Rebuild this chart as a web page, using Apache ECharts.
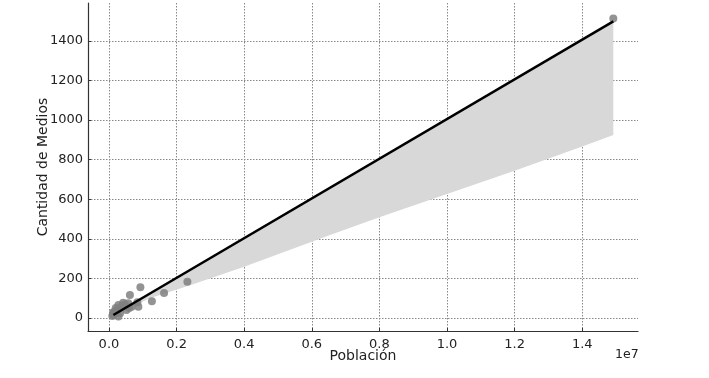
<!DOCTYPE html>
<html>
<head>
<meta charset="utf-8">
<script src="https://cdn.jsdelivr.net/npm/echarts@6/dist/echarts.min.js"></script>
<style>html,body{margin:0;padding:0;background:#fff}#c{width:709px;height:378px}</style>
</head>
<body>
<div id="c"></div>
<script>
// Scatter data: population vs number of media outlets
var pointPopulation = [14920000, 2320000, 1630000, 1270000, 930000, 620000, 870000, 840000, 670000, 520000, 420000, 570000, 280000, 230000, 180000, 130000, 280000, 330000, 370000, 470000, 100000, 150000, 200000, 250000, 400000, 600000, 120000];
var pointMedia = [1514, 183, 126, 84, 155, 116, 57, 79, 57, 40, 77, 74, 66, 40, 24, 15, 7, 24, 58, 69, 10, 30, 50, 35, 60, 50, 28];
// Regression line
var lineX = [130000, 14920000];
var lineY = [15, 1499];
// Confidence band
var bandX = [130000, 1210000, 2400000, 4000000, 6540000, 8000000, 10000000, 12000000, 14000000, 14920000];
var bandLower = [12, 100, 165, 259, 419, 509, 627, 744, 866, 925];
var bandUpper = [15, 124, 243, 402, 659, 804, 1005, 1206, 1407, 1499];
// Tick values
var xTicks = [0, 2000000, 4000000, 6000000, 8000000, 10000000, 12000000, 14000000];
var yTicks = [0, 200, 400, 600, 800, 1000, 1200, 1400];

var chart = echarts.init(document.getElementById('c'));
var font = 'DejaVu Sans';
function zip(a, b) { return a.map(function (v, i) { return [v, b[i]]; }); }

chart.setOption({
  animation: false,
  grid: { left: 88, right: 71, top: 3, bottom: 47 },
  xAxis: {
    type: 'value', min: -620000, max: 15650000,
    name: 'Población', nameLocation: 'middle', nameGap: 18, nameMoveOverlap: false,
    nameTextStyle: { fontFamily: font, fontSize: 14, color: '#222', verticalAlign: 'top' },
    axisLine: { show: true, onZero: false, lineStyle: { color: '#333', width: 1.2 } },
    axisTick: { show: true, inside: true, length: 3, customValues: xTicks, lineStyle: { color: '#333' } },
    axisLabel: { customValues: xTicks, margin: 7, fontFamily: font, fontSize: 13, color: '#222',
      formatter: function (v) { return (v / 1e7).toFixed(1); } },
    splitLine: { show: true, lineStyle: { color: '#888', type: [1.5, 1.5], width: 1 } }
  },
  yAxis: {
    type: 'value', min: -66, max: 1592,
    name: 'Cantidad de Medios', nameLocation: 'middle', nameGap: 38, nameMoveOverlap: false,
    nameTextStyle: { fontFamily: font, fontSize: 14, color: '#222' },
    axisLine: { show: true, onZero: false, lineStyle: { color: '#333', width: 1.2 } },
    axisTick: { show: true, inside: true, length: 3, customValues: yTicks, lineStyle: { color: '#333' } },
    axisLabel: { customValues: yTicks, margin: 5, fontFamily: font, fontSize: 13, color: '#222',
      formatter: function (v) { return String(v); } },
    splitLine: { show: true, lineStyle: { color: '#888', type: [1.5, 1.5], width: 1 } }
  },
  graphic: [{ type: 'text', left: 615, top: 348, style: { text: '1e7', fontFamily: font, fontSize: 12.5, fill: '#222' } }],
  series: [
    { type: 'custom', silent: true, z: 1,
      data: [0],
      renderItem: function (params, api) {
        var pts = [];
        for (var i = 0; i < bandX.length; i++) pts.push(api.coord([bandX[i], bandUpper[i]]));
        for (var j = bandX.length - 1; j >= 0; j--) pts.push(api.coord([bandX[j], bandLower[j]]));
        return { type: 'polygon', shape: { points: pts }, style: { fill: '#d8d8d8' } };
      }
    },
    { type: 'scatter', data: zip(pointPopulation, pointMedia), symbolSize: 8,
      itemStyle: { color: '#808080', opacity: 0.85 }, z: 2 },
    { type: 'line', data: zip(lineX, lineY), symbol: 'none', lineStyle: { color: '#000', width: 2.5 }, z: 3 }
  ]
});
</script>
</body>
</html>
